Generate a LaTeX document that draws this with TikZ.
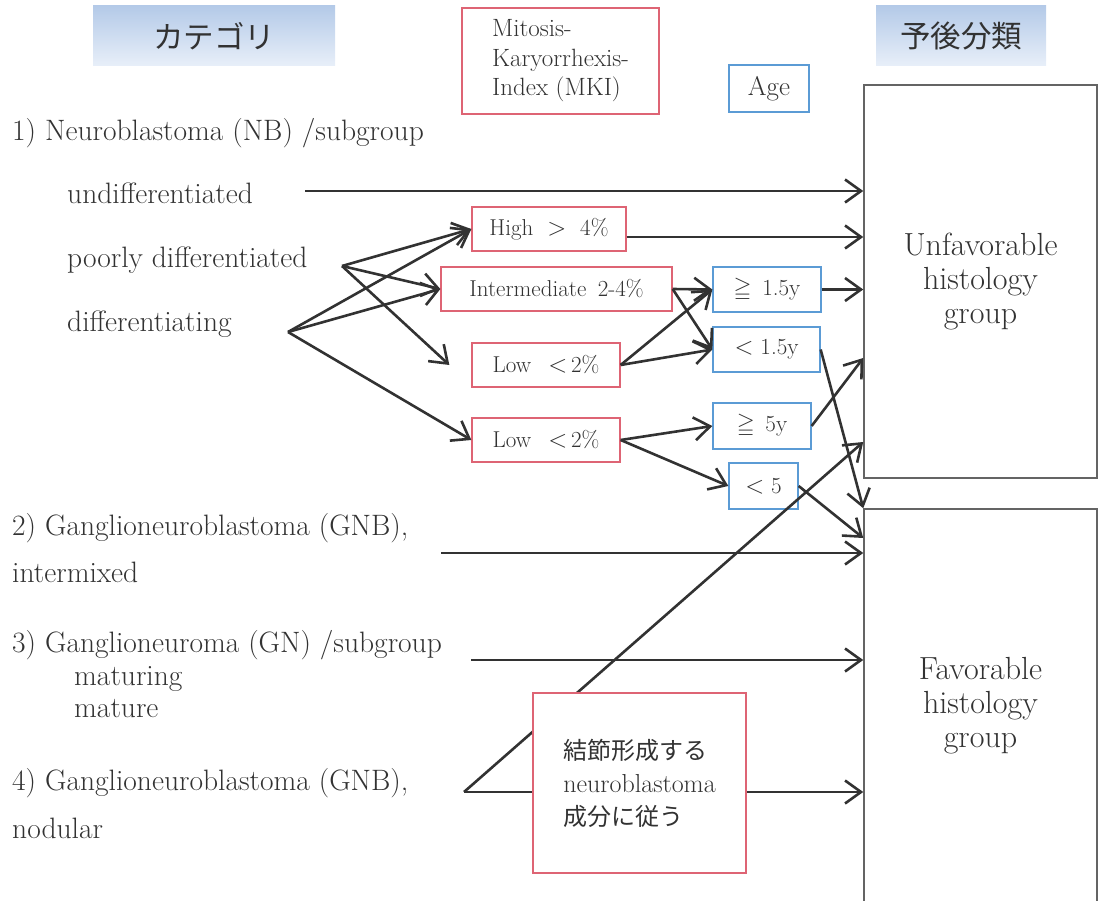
\documentclass[tikz,border=0pt]{standalone}
\usepackage{amssymb}
\usepackage{fontspec}
\newfontfamily\jpfont{Noto Sans CJK JP}
\usepackage{tikz}
\usetikzlibrary{arrows.meta}
\definecolor{ink}{RGB}{50,50,50}
\definecolor{redline}{RGB}{222,100,116}
\definecolor{blueline}{RGB}{91,155,213}
\definecolor{greyline}{RGB}{100,100,100}
\definecolor{hdtop}{RGB}{180,202,232}
\definecolor{hdbot}{RGB}{232,239,249}
\tikzset{
  hdr/.style={top color=hdtop, bottom color=hdbot, minimum height=60pt, inner sep=0pt, text=ink, font=\jpfont\fontsize{30.5}{36}\selectfont},
  mkibox/.style={draw=redline, line width=1.3pt, fill=white, inner sep=0pt, text=ink, font=\fontsize{23}{27}\selectfont},
  agebox/.style={draw=blueline, line width=1.3pt, fill=white, inner sep=0pt, text=ink, font=\fontsize{23}{27}\selectfont},
  histbox/.style={draw=greyline, line width=1.5pt, inner sep=0pt, align=center, text=ink, font=\fontsize{32}{34}\selectfont},
  lbl/.style={anchor=base west, inner sep=0pt, text=ink, font=\fontsize{29.5}{32}\selectfont},
  arr/.style={-{Straight Barb[length=16pt,width=23pt]}, line width=2.6pt, draw=ink}
}

\begin{document}
\begin{tikzpicture}[x=1pt, y=-1pt]
    \useasboundingbox (0,0) rectangle (1101,901);
    % Headers
    \node[hdr, minimum width=242pt] (cat) at (214,36) {カテゴリ};
    \node[hdr, minimum width=170pt] (prog) at (961,36) {予後分類};
    \node[mkibox, minimum width=197pt, minimum height=106pt, align=left, font=\fontsize{25}{29.5}\selectfont] (mki) at (560.5,61) {Mitosis-\\Karyorrhexis-\\Index (MKI)};
    \node[agebox, minimum width=80pt, minimum height=47pt, font=\fontsize{27}{30}\selectfont] (age) at (769,88.5) {Age};

    % Prognosis groups
    \node[histbox, minimum width=233pt, minimum height=393pt] (unfav) at (980.5,281.5) {Unfavorable\\histology\\group};
    \node[histbox, minimum width=233pt, minimum height=394pt] (fav) at (980.5,706) {Favorable\\histology\\group};

    % Categories
    \node[lbl] (nb) at (12,141) {1) Neuroblastoma (NB) /subgroup};
    \node[lbl] (undt) at (67,204) {undifferentiated};
    \node[lbl] (pdt) at (67,268) {poorly differentiated};
    \node[lbl] (dgt) at (67,332) {differentiating};
    \node[lbl] (gnbi) at (12,535) {2) Ganglioneuroblastoma (GNB),};
    \node[lbl] (imxt) at (12,582) {intermixed};
    \node[lbl] (gn) at (12,652) {3) Ganglioneuroma (GN) /subgroup};
    \node[lbl] (matg) at (74,685) {maturing};
    \node[lbl] (matr) at (74,717) {mature};
    \node[lbl] (gnbn) at (12,790) {4) Ganglioneuroblastoma (GNB),};
    \node[lbl] (nodt) at (12,838) {nodular};

    % MKI
    \node[mkibox, minimum width=154pt, minimum height=44pt] (high) at (549,229) {High ~$>$~ 4\%};
    \node[mkibox, minimum width=231pt, minimum height=44pt] (inter) at (556.5,289) {Intermediate\enspace 2-4\%};
    \node[mkibox, minimum width=148pt, minimum height=44pt] (lowa) at (546,365) {Low\hspace{0.75em}$<$\,2\%};
    \node[mkibox, minimum width=148pt, minimum height=44pt] (lowb) at (546,440) {Low\hspace{0.75em}$<$\,2\%};

    % Age
    \node[agebox, minimum width=108pt, minimum height=45pt] (agea) at (767,289.5) {$\geqq$\, 1.5y};
    \node[agebox, minimum width=107pt, minimum height=45pt] (ageb) at (766.5,349.5) {$<$ 1.5y};
    \node[agebox, minimum width=98pt, minimum height=46pt] (agec) at (762,426) {$\geqq$\, 5y};
    \node[agebox, minimum width=69pt, minimum height=46pt] (aged) at (763.5,486) {$<$ 5};

    \coordinate (und) at (305,191);
    \coordinate (pd) at (342,266);
    \coordinate (dg) at (288,332);
    \coordinate (imx) at (441,553);
    \coordinate (gnm) at (471,660);
    \coordinate (nd) at (464,792);

    % Edges
    \draw[arr] (und) -- (unfav.west |- 0,191);
    \draw[arr] (pd) -- (high.west);
    \draw[arr] (pd) -- (inter.west);
    \draw[arr] (pd) -- ([xshift=-22pt]lowa.west);
    \draw[arr] (dg) -- (high.west);
    \draw[arr] (dg) -- (inter.west);
    \draw[arr] (dg) -- (lowb.west);
    \draw[arr] ([yshift=-8pt]high.east) -- (unfav.west |- 0,237);
    \draw[arr] (inter.east) -- (agea.west);
    \draw[arr] (inter.east) -- (ageb.west);
    \draw[arr] (lowa.east) -- (agea.west);
    \draw[arr] (lowa.east) -- (ageb.west);
    \draw[arr] (agea.east) -- (agea.east -| unfav.west);
    \draw[arr] (ageb.east) -- (fav.north west);
    \draw[arr] (lowb.east) -- (agec.west);
    \draw[arr] (lowb.east) -- (aged.west);
    \draw[arr] (agec.east) -- (unfav.west |- 0,358);
    \draw[arr] (aged.east) -- (fav.west |- 0,538);
    \draw[arr] (imx) -- (fav.west |- 0,553);
    \draw[arr] (gnm) -- (fav.west |- 0,660);
    \draw[arr] (nd) -- (fav.west |- 0,792);
    \draw[arr] (nd) -- (unfav.west |- 0,442);

    \node[mkibox, minimum width=213pt, minimum height=180pt, align=left, font=\fontsize{26}{33}\selectfont] (nod) at (639.5,783) {{\jpfont\fontsize{24}{33}\selectfont 結節形成する}\\neuroblastoma\\{\jpfont\fontsize{24}{33}\selectfont 成分に従う}};
\end{tikzpicture}
\end{document}
